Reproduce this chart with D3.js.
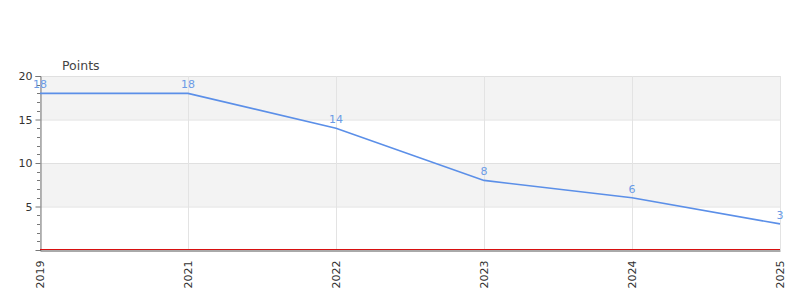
<!DOCTYPE html>
<html><head><meta charset="utf-8">
<script src="https://cdn.jsdelivr.net/npm/d3@7"></script>
<style>body{margin:0;background:#fff;font-family:"DejaVu Sans",sans-serif}</style>
</head><body><svg id="c" width="800" height="300"></svg>
<script>
const categories = ["2019","2021","2022","2023","2024","2025"];
const values = [18,18,14,8,6,3];
const yTicks = [5,10,15,20];
const yTitle = "Points";

const svg = d3.select("#c");
const x = d3.scalePoint().domain(categories).range([40,780]);
const y = d3.scaleLinear().domain([0,20]).range([250,76]);

// bands
const bands = [[15,20],[5,10]];
svg.selectAll("rect.band").data(bands).join("rect")
  .attr("x",40).attr("width",740)
  .attr("y",d=>y(d[1])).attr("height",d=>y(d[0])-y(d[1]))
  .attr("fill","#f3f3f3");

// horizontal grid
svg.selectAll("line.hg").data(yTicks).join("line")
  .attr("x1",40).attr("x2",780).attr("y1",d=>y(d)+0.5).attr("y2",d=>y(d)+0.5)
  .attr("stroke","#e0e0e0");
// vertical grid
svg.selectAll("line.vg").data(categories).join("line")
  .attr("x1",d=>x(d)+0.5).attr("x2",d=>x(d)+0.5).attr("y1",76).attr("y2",250)
  .attr("stroke","#e3e3e3");

// y axis
const minor = d3.range(1,21).filter(v=>v%5!==0);
svg.selectAll("line.mt").data(minor).join("line")
  .attr("x1",37).attr("x2",40).attr("y1",d=>Math.round(y(d))+0.5).attr("y2",d=>Math.round(y(d))+0.5)
  .attr("stroke","#777");
const yAxis = d3.axisLeft(y).tickValues(yTicks).tickSize(5).tickPadding(3);
const ga = svg.append("g").attr("transform","translate(40.5,0)").call(yAxis);
ga.select(".domain").attr("stroke","#777");
ga.selectAll(".tick line").attr("stroke","#777");
ga.selectAll("text").attr("fill","#333").style("font-size","11px").style("font-family","DejaVu Sans");

// x axis
const xAxis = d3.axisBottom(x).tickSize(0).tickPadding(8);
const gx = svg.append("g").attr("transform","translate(0,250.5)").call(xAxis);
gx.select(".domain").attr("stroke","#555").attr("stroke-width",1);
gx.selectAll("text").attr("fill","#333").style("font-size","11px").style("font-family","DejaVu Sans")
  .attr("transform","rotate(-90)").attr("text-anchor","end").attr("dy","0.35em")
  .attr("x",-10).attr("y",0);

// red baseline
svg.append("line").attr("x1",40).attr("x2",780).attr("y1",y(0)-0.5).attr("y2",y(0)-0.5)
  .attr("stroke","#d81010").attr("stroke-width",1);

// line
const line = d3.line().x((d,i)=>x(categories[i])).y(d=>y(d));
svg.append("path").datum(values).attr("d",line).attr("fill","none")
  .attr("stroke","#5b8fe8").attr("stroke-width",1.6);

// labels
svg.selectAll("text.lbl").data(values).join("text")
  .attr("x",(d,i)=>x(categories[i])).attr("y",d=>y(d)-5)
  .attr("text-anchor","middle").attr("fill","#6b9be6")
  .style("font-size","11px").text(d=>d);

// title
svg.append("text").attr("x",62).attr("y",70).attr("fill","#444")
  .style("font-size","12.5px").text(yTitle);
</script></body></html>
